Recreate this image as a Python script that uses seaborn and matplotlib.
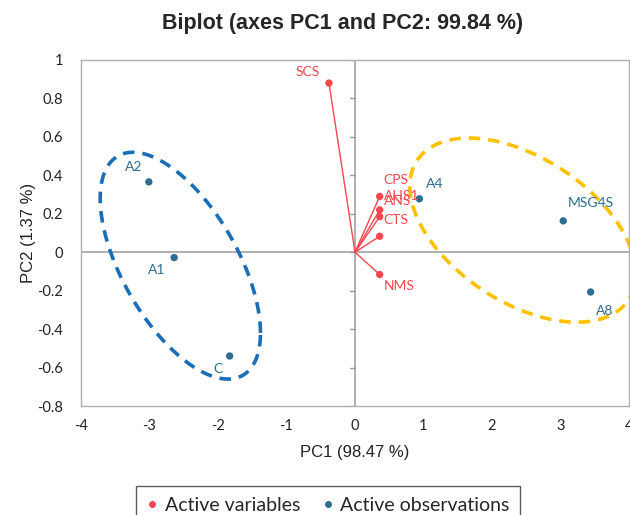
import numpy as np
import pandas as pd
import seaborn as sns
import matplotlib.pyplot as plt

# variables (loadings) and observations (scores)
var_names = ["SCS", "CPS", "AHS1", "ANS", "CTS", "NMS"]
var_pc1 = [-0.38, 0.36, 0.36, 0.36, 0.36, 0.36]
var_pc2 = [0.88, 0.29, 0.22, 0.185, 0.083, -0.116]

obs_names = ["A2", "A1", "C", "A4", "MSG4S", "A8"]
obs_pc1 = [-3.01, -2.64, -1.83, 0.94, 3.04, 3.44]
obs_pc2 = [0.366, -0.028, -0.54, 0.278, 0.163, -0.207]

# group ellipses: centre, half width, half height, correlation
blue_ell = [-2.55, -0.07, 1.17, 0.59, -0.593]
gold_ell = [2.45, 0.115, 1.65, 0.479, -0.478]

x_ticks = [-4, -3, -2, -1, 0, 1, 2, 3, 4]
y_ticks = [-0.8, -0.6, -0.4, -0.2, 0, 0.2, 0.4, 0.6, 0.8, 1]

red = "#F5474D"
blue = "#2C6E8F"

sns.set_style("white")
plt.rcParams["font.family"] = ["Lato", "DejaVu Sans"]

vars_df = pd.DataFrame({"PC1": var_pc1, "PC2": var_pc2, "name": var_names})
obs_df = pd.DataFrame({"PC1": obs_pc1, "PC2": obs_pc2, "name": obs_names})

fig = plt.figure(figsize=(6.3, 5.15), dpi=100)
ax = fig.add_axes([81 / 630, 109 / 515, 548 / 630, 346 / 515])

# centre axes
ax.axhline(0, color="#9a9a9a", lw=1.1, zorder=1)
ax.axvline(0, color="#9a9a9a", lw=1.1, zorder=1)
for yt in y_ticks:
    ax.plot([-0.07, 0], [yt, yt], color="#9a9a9a", lw=1.0, zorder=1)

# loading vectors
for i, r in vars_df.iterrows():
    ax.plot([0, r.PC1], [0, r.PC2], color=red, lw=1.0, zorder=2)
sns.scatterplot(data=vars_df, x="PC1", y="PC2", color=red, s=28,
                edgecolor="none", ax=ax, zorder=3, legend=False)
sns.scatterplot(data=obs_df, x="PC1", y="PC2", color=blue, s=28,
                edgecolor="none", ax=ax, zorder=3, legend=False)

# labels
var_off = {"SCS": (-0.13, 0.06, "right"), "CPS": (0.06, 0.085, "left"),
           "AHS1": (0.06, 0.075, "left"), "ANS": (0.06, 0.08, "left"),
           "CTS": (0.06, 0.085, "left"), "NMS": (0.06, -0.06, "left")}
for _, r in vars_df.iterrows():
    dx, dy, ha = var_off[r["name"]]
    ax.text(r.PC1 + dx, r.PC2 + dy, r["name"], color=red, fontsize=10,
            ha=ha, va="center")

obs_off = {"A2": (-0.1, 0.075, "right"), "A1": (-0.12, -0.065, "right"),
           "C": (-0.1, -0.065, "right"), "A4": (0.1, 0.075, "left"),
           "MSG4S": (0.07, 0.095, "left"), "A8": (0.08, -0.1, "left")}
for _, r in obs_df.iterrows():
    dx, dy, ha = obs_off[r["name"]]
    ax.text(r.PC1 + dx, r.PC2 + dy, r["name"], color=blue, fontsize=10,
            ha=ha, va="center")

# dashed ellipses
t = np.linspace(0, 2 * np.pi, 400)
for (cx, cy, hx, hy, rho), col in [(blue_ell, "#1A6DB8"), (gold_ell, "#FFC000")]:
    ex = cx + hx * np.cos(t)
    ey = cy + hy * (rho * np.cos(t) + np.sqrt(1 - rho ** 2) * np.sin(t))
    ax.plot(ex, ey, color=col, lw=2.6, ls=(0, (3.2, 2.2)), zorder=2,
            clip_on=False)

ax.set_xlim(-4, 4)
ax.set_ylim(-0.8, 1)
ax.set_xticks(x_ticks)
ax.set_yticks(y_ticks)
ax.set_xticklabels([str(v) for v in x_ticks])
ax.set_yticklabels(["0" if v == 0 else f"{v:g}" for v in y_ticks])
ax.tick_params(length=0, labelsize=10.5, colors="#222222")
ax.tick_params(axis="x", pad=9)
ax.tick_params(axis="y", pad=13)
for s in ax.spines.values():
    s.set_color("#b0b0b0")
    s.set_linewidth(1.0)

ax.set_xlabel("PC1 (98.47 %)", fontsize=12, family="Liberation Sans",
              color="#222222", labelpad=9)
ax.set_ylabel("PC2 (1.37 %)", fontsize=12, family="Liberation Sans",
              color="#222222", labelpad=1)

fig.text(343 / 630, 1 - 23 / 515, "Biplot (axes PC1 and PC2: 99.84 %)",
         ha="center", va="center", fontsize=15.5, fontweight="bold",
         family="Liberation Sans")

h1 = plt.Line2D([], [], marker="o", ls="none", color=red, markersize=4)
h2 = plt.Line2D([], [], marker="o", ls="none", color=blue, markersize=4)
leg = fig.legend([h1, h2], ["Active variables", "Active observations"],
                 loc="upper center", bbox_to_anchor=(328 / 630, 1 - 486 / 515),
                 ncol=2, fontsize=14, frameon=True, fancybox=False,
                 handletextpad=0.35, columnspacing=1.1, borderpad=0.55,
                 handlelength=0.6, borderaxespad=0)
leg.get_frame().set_edgecolor("#333333")
leg.get_frame().set_linewidth(1.0)

fig.savefig("out.png", dpi=100)
